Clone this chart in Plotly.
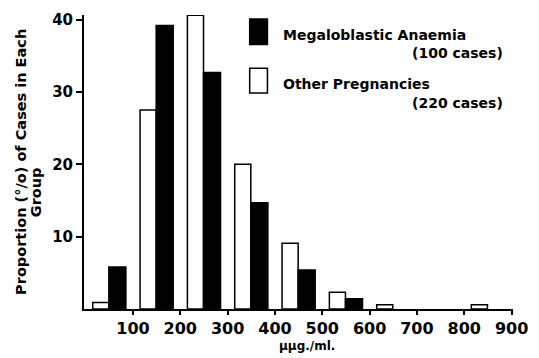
import plotly.graph_objects as go

# bin lower edges (µµg./ml.)
bin_edges = [0, 100, 200, 300, 400, 500, 600, 700, 800]
tick_vals = [100, 200, 300, 400, 500, 600, 700, 800, 900]
tick_text = ["100", "200", "300", "400", "500", "600", "700", "800", "900"]
y_tick_vals = [10, 20, 30, 40]
y_tick_text = ["10", "20", "30", "40"]

other_pregnancies = [0.9, 27.5, 40.6, 20.0, 9.1, 2.3, 0.6, None, 0.6]
megaloblastic = [5.8, 39.2, 32.7, 14.7, 5.4, 1.4, None, None, None]

FONT = "DejaVu Sans"

fig = go.Figure()
fig.add_trace(go.Bar(
    x=bin_edges, y=other_pregnancies, offset=15, width=34,
    marker=dict(color="white", line=dict(color="black", width=1.5)),
    name="Other Pregnancies (220 cases)", showlegend=False,
))
fig.add_trace(go.Bar(
    x=bin_edges, y=megaloblastic, offset=49, width=36,
    marker=dict(color="black", line=dict(color="black", width=1.5)),
    name="Megaloblastic Anaemia (100 cases)", showlegend=False,
))

fig.update_layout(
    width=539, height=358,
    margin=dict(l=84, r=20, t=11, b=49),
    paper_bgcolor="white", plot_bgcolor="white",
    barmode="overlay",
    font=dict(family=FONT, color="black"),
    xaxis=dict(
        range=[-3.5, 903], showgrid=False, zeroline=False,
        showline=True, linecolor="black", linewidth=2,
        ticks="outside", ticklen=4, tickwidth=1.5, tickcolor="black",
        tickvals=tick_vals, ticktext=tick_text,
        tickfont=dict(family=FONT, size=16, color="black", weight="bold"),
    ),
    yaxis=dict(
        range=[0, 40.65], showgrid=False, zeroline=False,
        showline=True, linecolor="black", linewidth=2,
        ticks="outside", ticklen=6, tickwidth=1.5, tickcolor="black",
        tickvals=y_tick_vals, ticktext=y_tick_text,
        tickfont=dict(family=FONT, size=15, color="black", weight="bold"),
    ),
)

def px_x(px):
    return (px - 84) / 435

def px_y(py):
    return (309 - py) / 298

# legend swatches
fig.add_shape(type="rect", xref="paper", yref="paper",
              x0=px_x(252), x1=px_x(270), y0=px_y(41), y1=px_y(15),
              fillcolor="black", line=dict(color="black", width=1.5))
fig.add_shape(type="rect", xref="paper", yref="paper",
              x0=px_x(252), x1=px_x(270), y0=px_y(90), y1=px_y(65),
              fillcolor="white", line=dict(color="black", width=1.5))

legend_font = dict(family=FONT, size=14, color="black", weight="bold")
fig.add_annotation(text="Megaloblastic Anaemia", xref="paper", yref="paper",
                   x=px_x(284), y=px_y(31), xanchor="left", yanchor="middle",
                   showarrow=False, font=legend_font)
fig.add_annotation(text="(100 cases)", xref="paper", yref="paper",
                   x=px_x(511), y=px_y(50), xanchor="right", yanchor="middle",
                   showarrow=False, font=legend_font)
fig.add_annotation(text="Other Pregnancies", xref="paper", yref="paper",
                   x=px_x(284), y=px_y(81), xanchor="left", yanchor="middle",
                   showarrow=False, font=legend_font)
fig.add_annotation(text="(220 cases)", xref="paper", yref="paper",
                   x=px_x(511), y=px_y(100), xanchor="right", yanchor="middle",
                   showarrow=False, font=legend_font)

title_font = dict(family=FONT, size=14.5, color="black", weight="bold")
fig.add_annotation(text="Proportion (°/o) of Cases in Each", xref="paper", yref="paper",
                   x=px_x(20), y=px_y(160), xanchor="center", yanchor="middle",
                   textangle=-90, showarrow=False, font=title_font)
fig.add_annotation(text="Group", xref="paper", yref="paper",
                   x=px_x(35), y=px_y(191), xanchor="center", yanchor="middle",
                   textangle=-90, showarrow=False, font=title_font)
fig.add_annotation(text="µµg./ml.", xref="paper", yref="paper",
                   x=px_x(310), y=px_y(347), xanchor="center", yanchor="middle",
                   showarrow=False, font=dict(family=FONT, size=12, color="black", weight="bold"))

fig.write_html("out.html")
